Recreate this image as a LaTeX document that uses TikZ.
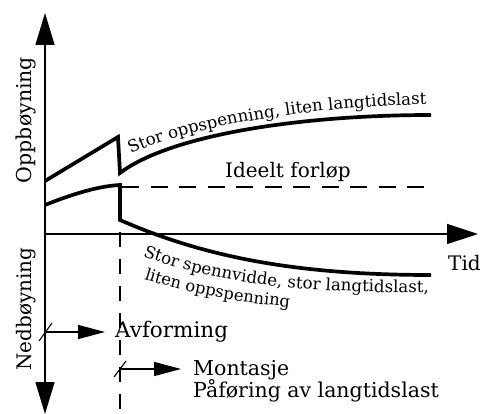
\documentclass[tikz,border=0pt]{standalone}
\usepackage{fontspec}
\setmainfont{DejaVu Serif}
\usetikzlibrary{arrows.meta,decorations.text,calc}
\begin{document}
\begin{tikzpicture}[x=1pt,y=-1pt,
  axis/.style={line width=1.5pt},
  bigtip/.style={-{Triangle[length=31pt,width=20pt]}},
  twotips/.style={{Triangle[length=32pt,width=19pt]}-{Triangle[length=32pt,width=19pt]}},
  curve/.style={line width=3.7pt, line join=miter},
  guide/.style={line width=1.6pt, dash pattern=on 17pt off 11.5pt},
  smallarrow/.style={line width=1.3pt, -{Triangle[length=27pt,width=14pt]}},
  tickmark/.style={line width=1.1pt},
  biglabel/.style={font=\fontsize{20}{24}\selectfont, inner sep=0pt},
]
\useasboundingbox (0,0) rectangle (482,414);
% axes
\coordinate (ytop) at (45,13);
\coordinate (ybot) at (45,414);
\coordinate (org) at (45,234);
\coordinate (xend) at (478,234);
\draw[axis, twotips] (ybot) -- (ytop);
\draw[axis, bigtip] (org) -- (xend);
% upper curve
\coordinate (u0) at (45,181);
\coordinate (u1) at (118,137);
\coordinate (u2) at (120,173);
\coordinate (u3) at (431,115);
\draw[curve] (u0) -- (u1) -- (u2) .. controls (170,135) and (300,115) .. (u3);
% lower curve
\coordinate (l0) at (45,205);
\coordinate (l1) at (120,185);
\coordinate (l2) at (120,220);
\coordinate (l3) at (431,275);
\draw[curve] (l0) .. controls (75,193) and (100,186) .. (l1) -- (l2) .. controls (200,255) and (290,275) .. (l3);
% dashed guides
\coordinate (d0) at (122,187);
\coordinate (d1) at (426,187);
\draw[guide] (d0) -- (d1);
\coordinate (v0) at (120,232);
\coordinate (v1) at (120,414);
\draw[guide, dash pattern=on 15pt off 12pt] (v0) -- (v1);
% labels
\node[biglabel, font=\fontsize{20.5}{24}\selectfont, rotate=90, anchor=base] (opp) at (31,120) {Oppbøyning};
\node[biglabel, rotate=90, anchor=base] (ned) at (31,309) {Nedbøyning};
\node[biglabel, anchor=base west] (tid) at (448,270) {Tid};
\node[biglabel, anchor=base west] (ideelt) at (225,178) {Ideelt forløp};
% curved texts
\path[decorate, decoration={text along path, text={|\fontsize{16.6}{18}\selectfont|Stor oppspenning, liten langtidslast}}]
  (131,154) .. controls (175,132) and (290,106) .. (445,104);
\path[decorate, decoration={text along path, text={|\fontsize{16.6}{18}\selectfont|Stor spennvidde, stor langtidslast,}}]
  (143,256) .. controls (220,285) and (300,293) .. (450,293);
\path[decorate, decoration={text along path, text={|\fontsize{16.3}{18}\selectfont|liten oppspenning}}]
  (144,279) .. controls (195,295) and (245,305) .. (330,310);
% Avforming
\coordinate (a0) at (45,332);
\node[biglabel, font=\fontsize{21.5}{24}\selectfont, anchor=base west] (avf) at (115,337) {Avforming};
\draw[smallarrow] (a0) -- ($(a0 -| avf.west)+(-10,0)$);
\coordinate (as0) at (39,341);
\coordinate (as1) at (52,323);
\draw[tickmark] (as0) -- (as1);
% Montasje
\coordinate (m0) at (120,369);
\node[biglabel, font=\fontsize{20.5}{24}\selectfont, anchor=base west] (mont) at (193,375) {Montasje};
\node[biglabel, font=\fontsize{20.5}{24}\selectfont, anchor=base west] (paf) at (193,397) {Påføring av langtidslast};
\draw[smallarrow] (m0) -- ($(m0 -| mont.west)+(-12,0)$);
\coordinate (ms0) at (114,377);
\coordinate (ms1) at (126,361);
\draw[tickmark] (ms0) -- (ms1);
\end{tikzpicture}
\end{document}
